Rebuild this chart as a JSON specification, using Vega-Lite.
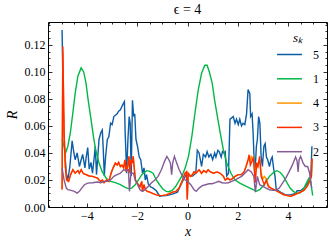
{
"$schema": "https://vega.github.io/schema/vega-lite/v6.json",
"width": 279, "height": 185,
"autosize": {"type": "none"},
"padding": {"left": 48, "top": 22, "right": 5, "bottom": 38},
"title": {"text": "ϵ = 4", "font": "Liberation Serif", "fontSize": 14, "fontWeight": "normal", "color": "black", "offset": 5},
"config": {
  "view": {"stroke": "black", "strokeWidth": 1},
  "axis": {"grid": false, "domain": false, "tickColor": "black", "tickWidth": 0.8, "labelColor": "black", "labelFont": "Liberation Serif", "labelFontSize": 12, "titleFont": "Liberation Serif", "titleFontStyle": "italic", "titleFontWeight": "normal", "titleFontSize": 14, "titleColor": "black", "labelFlush": false, "labelOverlap": false},
  "legend": {"labelFont": "Liberation Serif", "titleFont": "Liberation Serif", "labelColor": "black", "titleColor": "black"}
},
"data": {"values": [
{"s":"5","x":-4.99,"R":0.131},{"s":"5","x":-4.94,"R":0.072},{"s":"5","x":-4.89,"R":0.042},{"s":"5","x":-4.82,"R":0.025},{"s":"5","x":-4.76,"R":0.020},{"s":"5","x":-4.68,"R":0.030},{"s":"5","x":-4.59,"R":0.049},{"s":"5","x":-4.52,"R":0.040},{"s":"5","x":-4.47,"R":0.035},{"s":"5","x":-4.39,"R":0.040},{"s":"5","x":-4.30,"R":0.030},{"s":"5","x":-4.23,"R":0.035},{"s":"5","x":-4.17,"R":0.039},{"s":"5","x":-4.08,"R":0.029},{"s":"5","x":-4.03,"R":0.037},{"s":"5","x":-3.97,"R":0.044},{"s":"5","x":-3.91,"R":0.028},{"s":"5","x":-3.84,"R":0.033},{"s":"5","x":-3.78,"R":0.025},{"s":"5","x":-3.71,"R":0.037},{"s":"5","x":-3.67,"R":0.045},{"s":"5","x":-3.62,"R":0.024},{"s":"5","x":-3.57,"R":0.037},{"s":"5","x":-3.52,"R":0.050},{"s":"5","x":-3.45,"R":0.055},{"s":"5","x":-3.39,"R":0.057},{"s":"5","x":-3.35,"R":0.042},{"s":"5","x":-3.31,"R":0.023},{"s":"5","x":-3.26,"R":0.037},{"s":"5","x":-3.19,"R":0.050},{"s":"5","x":-3.13,"R":0.052},{"s":"5","x":-3.06,"R":0.062},{"s":"5","x":-3.00,"R":0.061},{"s":"5","x":-2.93,"R":0.067},{"s":"5","x":-2.87,"R":0.068},{"s":"5","x":-2.80,"R":0.069},{"s":"5","x":-2.74,"R":0.071},{"s":"5","x":-2.67,"R":0.072},{"s":"5","x":-2.62,"R":0.074},{"s":"5","x":-2.57,"R":0.076},{"s":"5","x":-2.51,"R":0.078},{"s":"5","x":-2.48,"R":0.055},{"s":"5","x":-2.42,"R":0.025},{"s":"5","x":-2.37,"R":0.050},{"s":"5","x":-2.32,"R":0.067},{"s":"5","x":-2.28,"R":0.062},{"s":"5","x":-2.24,"R":0.023},{"s":"5","x":-2.19,"R":0.079},{"s":"5","x":-2.14,"R":0.067},{"s":"5","x":-2.10,"R":0.069},{"s":"5","x":-2.05,"R":0.050},{"s":"5","x":-1.99,"R":0.045},{"s":"5","x":-1.92,"R":0.037},{"s":"5","x":-1.86,"R":0.035},{"s":"5","x":-1.79,"R":0.025},{"s":"5","x":-1.73,"R":0.029},{"s":"5","x":-1.68,"R":0.020},{"s":"5","x":-1.63,"R":0.024},{"s":"5","x":-1.56,"R":0.017},{"s":"5","x":-1.47,"R":0.015},{"s":"5","x":-1.37,"R":0.014},{"s":"5","x":-1.24,"R":0.012},{"s":"5","x":-1.11,"R":0.008},{"s":"5","x":-1.0,"R":0.0083},{"s":"5","x":-0.85,"R":0.0085},{"s":"5","x":-0.6,"R":0.0095},{"s":"5","x":-0.4,"R":0.011},{"s":"5","x":-0.2,"R":0.019},{"s":"5","x":-0.05,"R":0.024},{"s":"5","x":0.1,"R":0.023},{"s":"5","x":0.2,"R":0.023},{"s":"5","x":0.33,"R":0.025},{"s":"5","x":0.39,"R":0.042},{"s":"5","x":0.46,"R":0.040},{"s":"5","x":0.56,"R":0.030},{"s":"5","x":0.63,"R":0.039},{"s":"5","x":0.72,"R":0.037},{"s":"5","x":0.78,"R":0.041},{"s":"5","x":0.85,"R":0.037},{"s":"5","x":0.93,"R":0.039},{"s":"5","x":1.00,"R":0.035},{"s":"5","x":1.08,"R":0.040},{"s":"5","x":1.13,"R":0.037},{"s":"5","x":1.21,"R":0.042},{"s":"5","x":1.26,"R":0.041},{"s":"5","x":1.34,"R":0.037},{"s":"5","x":1.39,"R":0.041},{"s":"5","x":1.45,"R":0.040},{"s":"5","x":1.50,"R":0.041},{"s":"5","x":1.56,"R":0.023},{"s":"5","x":1.63,"R":0.025},{"s":"5","x":1.69,"R":0.065},{"s":"5","x":1.76,"R":0.066},{"s":"5","x":1.82,"R":0.067},{"s":"5","x":1.89,"R":0.062},{"s":"5","x":1.95,"R":0.065},{"s":"5","x":2.02,"R":0.061},{"s":"5","x":2.08,"R":0.065},{"s":"5","x":2.15,"R":0.060},{"s":"5","x":2.21,"R":0.062},{"s":"5","x":2.28,"R":0.061},{"s":"5","x":2.35,"R":0.069},{"s":"5","x":2.41,"R":0.087},{"s":"5","x":2.48,"R":0.084},{"s":"5","x":2.51,"R":0.067},{"s":"5","x":2.57,"R":0.069},{"s":"5","x":2.61,"R":0.055},{"s":"5","x":2.64,"R":0.040},{"s":"5","x":2.68,"R":0.023},{"s":"5","x":2.74,"R":0.045},{"s":"5","x":2.78,"R":0.050},{"s":"5","x":2.83,"R":0.067},{"s":"5","x":2.88,"R":0.062},{"s":"5","x":2.93,"R":0.037},{"s":"5","x":2.98,"R":0.030},{"s":"5","x":3.04,"R":0.045},{"s":"5","x":3.09,"R":0.047},{"s":"5","x":3.14,"R":0.037},{"s":"5","x":3.19,"R":0.035},{"s":"5","x":3.26,"R":0.030},{"s":"5","x":3.32,"R":0.035},{"s":"5","x":3.37,"R":0.037},{"s":"5","x":3.43,"R":0.028},{"s":"5","x":3.48,"R":0.023},{"s":"5","x":3.53,"R":0.013},{"s":"5","x":3.7,"R":0.011},{"s":"5","x":3.9,"R":0.009},{"s":"5","x":4.1,"R":0.009},{"s":"5","x":4.3,"R":0.010},{"s":"5","x":4.36,"R":0.012},{"s":"5","x":4.50,"R":0.012},{"s":"5","x":4.63,"R":0.014},{"s":"5","x":4.76,"R":0.017},{"s":"5","x":4.86,"R":0.020},{"s":"5","x":4.91,"R":0.025},{"s":"5","x":4.95,"R":0.045},

{"s":"1","x":-4.99,"R":0.050},{"s":"1","x":-4.91,"R":0.045},{"s":"1","x":-4.85,"R":0.040},{"s":"1","x":-4.76,"R":0.045},{"s":"1","x":-4.66,"R":0.055},{"s":"1","x":-4.56,"R":0.070},{"s":"1","x":-4.47,"R":0.084},{"s":"1","x":-4.36,"R":0.097},{"s":"1","x":-4.23,"R":0.103},{"s":"1","x":-4.13,"R":0.100},{"s":"1","x":-4.04,"R":0.092},{"s":"1","x":-3.95,"R":0.079},{"s":"1","x":-3.84,"R":0.065},{"s":"1","x":-3.74,"R":0.052},{"s":"1","x":-3.65,"R":0.042},{"s":"1","x":-3.52,"R":0.0325},{"s":"1","x":-3.39,"R":0.026},{"s":"1","x":-3.22,"R":0.021},{"s":"1","x":-3.06,"R":0.019},{"s":"1","x":-2.87,"R":0.018},{"s":"1","x":-2.67,"R":0.0165},{"s":"1","x":-2.48,"R":0.0145},{"s":"1","x":-2.35,"R":0.0136},{"s":"1","x":-2.22,"R":0.014},{"s":"1","x":-2.08,"R":0.0165},{"s":"1","x":-1.95,"R":0.020},{"s":"1","x":-1.82,"R":0.024},{"s":"1","x":-1.63,"R":0.0269},{"s":"1","x":-1.50,"R":0.0264},{"s":"1","x":-1.37,"R":0.025},{"s":"1","x":-1.24,"R":0.020},{"s":"1","x":-1.11,"R":0.0165},{"s":"1","x":-0.98,"R":0.0133},{"s":"1","x":-0.85,"R":0.0116},{"s":"1","x":-0.74,"R":0.0113},{"s":"1","x":-0.61,"R":0.0123},{"s":"1","x":-0.48,"R":0.015},{"s":"1","x":-0.35,"R":0.019},{"s":"1","x":-0.22,"R":0.023},{"s":"1","x":-0.09,"R":0.029},{"s":"1","x":0.04,"R":0.0375},{"s":"1","x":0.17,"R":0.052},{"s":"1","x":0.30,"R":0.070},{"s":"1","x":0.43,"R":0.087},{"s":"1","x":0.56,"R":0.099},{"s":"1","x":0.69,"R":0.105},{"s":"1","x":0.78,"R":0.105},{"s":"1","x":0.87,"R":0.100},{"s":"1","x":0.98,"R":0.092},{"s":"1","x":1.08,"R":0.079},{"s":"1","x":1.19,"R":0.067},{"s":"1","x":1.30,"R":0.055},{"s":"1","x":1.43,"R":0.042},{"s":"1","x":1.56,"R":0.0325},{"s":"1","x":1.73,"R":0.025},{"s":"1","x":1.89,"R":0.020},{"s":"1","x":2.08,"R":0.0177},{"s":"1","x":2.28,"R":0.0158},{"s":"1","x":2.48,"R":0.014},{"s":"1","x":2.61,"R":0.0128},{"s":"1","x":2.74,"R":0.0116},{"s":"1","x":2.87,"R":0.0128},{"s":"1","x":3.00,"R":0.0153},{"s":"1","x":3.13,"R":0.019},{"s":"1","x":3.26,"R":0.0227},{"s":"1","x":3.43,"R":0.0256},{"s":"1","x":3.56,"R":0.0269},{"s":"1","x":3.69,"R":0.0256},{"s":"1","x":3.82,"R":0.0227},{"s":"1","x":3.95,"R":0.0182},{"s":"1","x":4.08,"R":0.014},{"s":"1","x":4.21,"R":0.0116},{"s":"1","x":4.34,"R":0.0103},{"s":"1","x":4.47,"R":0.0103},{"s":"1","x":4.60,"R":0.0128},{"s":"1","x":4.73,"R":0.0177},{"s":"1","x":4.82,"R":0.021},{"s":"1","x":4.90,"R":0.019},{"s":"1","x":4.98,"R":0.0085},

{"s":"4","x":-4.99,"R":0.013},{"s":"4","x":-4.96,"R":0.115},{"s":"4","x":-4.91,"R":0.055},{"s":"4","x":-4.86,"R":0.030},{"s":"4","x":-4.81,"R":0.020},{"s":"4","x":-4.73,"R":0.019},{"s":"4","x":-4.65,"R":0.024},{"s":"4","x":-4.56,"R":0.0276},{"s":"4","x":-4.47,"R":0.025},{"s":"4","x":-4.36,"R":0.027},{"s":"4","x":-4.30,"R":0.025},{"s":"4","x":-4.23,"R":0.0276},{"s":"4","x":-4.14,"R":0.0246},{"s":"4","x":-4.04,"R":0.024},{"s":"4","x":-3.91,"R":0.023},{"s":"4","x":-3.78,"R":0.0227},{"s":"4","x":-3.67,"R":0.022},{"s":"4","x":-3.58,"R":0.0214},{"s":"4","x":-3.52,"R":0.020},{"s":"4","x":-3.45,"R":0.019},{"s":"4","x":-3.39,"R":0.020},{"s":"4","x":-3.32,"R":0.018},{"s":"4","x":-3.22,"R":0.020},{"s":"4","x":-3.13,"R":0.019},{"s":"4","x":-3.04,"R":0.025},{"s":"4","x":-2.96,"R":0.029},{"s":"4","x":-2.87,"R":0.0325},{"s":"4","x":-2.80,"R":0.031},{"s":"4","x":-2.74,"R":0.033},{"s":"4","x":-2.67,"R":0.030},{"s":"4","x":-2.61,"R":0.031},{"s":"4","x":-2.54,"R":0.029},{"s":"4","x":-2.49,"R":0.035},{"s":"4","x":-2.44,"R":0.026},{"s":"4","x":-2.38,"R":0.030},{"s":"4","x":-2.33,"R":0.0375},{"s":"4","x":-2.29,"R":0.025},{"s":"4","x":-2.25,"R":0.035},{"s":"4","x":-2.20,"R":0.0325},{"s":"4","x":-2.16,"R":0.0375},{"s":"4","x":-2.12,"R":0.029},{"s":"4","x":-2.07,"R":0.020},{"s":"4","x":-2.02,"R":0.018},{"s":"4","x":-1.95,"R":0.0165},{"s":"4","x":-1.89,"R":0.015},{"s":"4","x":-1.82,"R":0.019},{"s":"4","x":-1.79,"R":0.0116},{"s":"4","x":-1.73,"R":0.0165},{"s":"4","x":-1.68,"R":0.0128},{"s":"4","x":-1.60,"R":0.0116},{"s":"4","x":-1.50,"R":0.011},{"s":"4","x":-1.37,"R":0.0099},{"s":"4","x":-1.24,"R":0.009},{"s":"4","x":-1.11,"R":0.0084},{"s":"4","x":-0.98,"R":0.0086},{"s":"4","x":-0.85,"R":0.009},{"s":"4","x":-0.72,"R":0.0099},{"s":"4","x":-0.59,"R":0.011},{"s":"4","x":-0.46,"R":0.0116},{"s":"4","x":-0.33,"R":0.014},{"s":"4","x":-0.20,"R":0.020},{"s":"4","x":-0.10,"R":0.025},{"s":"4","x":-0.04,"R":0.026},{"s":"4","x":-0.01,"R":0.006},{"s":"4","x":0.03,"R":0.025},{"s":"4","x":0.13,"R":0.0227},{"s":"4","x":0.20,"R":0.024},{"s":"4","x":0.26,"R":0.026},{"s":"4","x":0.33,"R":0.025},{"s":"4","x":0.46,"R":0.0276},{"s":"4","x":0.56,"R":0.025},{"s":"4","x":0.65,"R":0.027},{"s":"4","x":0.74,"R":0.0256},{"s":"4","x":0.82,"R":0.0276},{"s":"4","x":0.91,"R":0.026},{"s":"4","x":1.04,"R":0.025},{"s":"4","x":1.17,"R":0.026},{"s":"4","x":1.30,"R":0.025},{"s":"4","x":1.43,"R":0.0227},{"s":"4","x":1.50,"R":0.020},{"s":"4","x":1.60,"R":0.0214},{"s":"4","x":1.69,"R":0.020},{"s":"4","x":1.76,"R":0.0207},{"s":"4","x":1.89,"R":0.0227},{"s":"4","x":2.02,"R":0.024},{"s":"4","x":2.15,"R":0.024},{"s":"4","x":2.25,"R":0.026},{"s":"4","x":2.33,"R":0.030},{"s":"4","x":2.41,"R":0.035},{"s":"4","x":2.45,"R":0.036},{"s":"4","x":2.50,"R":0.034},{"s":"4","x":2.54,"R":0.038},{"s":"4","x":2.57,"R":0.035},{"s":"4","x":2.62,"R":0.037},{"s":"4","x":2.67,"R":0.028},{"s":"4","x":2.70,"R":0.026},{"s":"4","x":2.73,"R":0.0275},{"s":"4","x":2.75,"R":0.033},{"s":"4","x":2.80,"R":0.030},{"s":"4","x":2.87,"R":0.035},{"s":"4","x":2.93,"R":0.025},{"s":"4","x":3.00,"R":0.021},{"s":"4","x":3.06,"R":0.0226},{"s":"4","x":3.13,"R":0.021},{"s":"4","x":3.22,"R":0.016},{"s":"4","x":3.32,"R":0.014},{"s":"4","x":3.45,"R":0.0128},{"s":"4","x":3.58,"R":0.0116},{"s":"4","x":3.71,"R":0.0103},{"s":"4","x":3.84,"R":0.009},{"s":"4","x":3.97,"R":0.0084},{"s":"4","x":4.10,"R":0.0079},{"s":"4","x":4.23,"R":0.0089},{"s":"4","x":4.36,"R":0.0099},{"s":"4","x":4.50,"R":0.011},{"s":"4","x":4.63,"R":0.0123},{"s":"4","x":4.76,"R":0.0153},{"s":"4","x":4.86,"R":0.019},{"s":"4","x":4.93,"R":0.0227},{"s":"4","x":4.96,"R":0.035},

{"s":"3","x":-4.99,"R":0.013},{"s":"3","x":-4.96,"R":0.119},{"s":"3","x":-4.91,"R":0.055},{"s":"3","x":-4.86,"R":0.030},{"s":"3","x":-4.81,"R":0.020},{"s":"3","x":-4.73,"R":0.019},{"s":"3","x":-4.65,"R":0.024},{"s":"3","x":-4.56,"R":0.0276},{"s":"3","x":-4.47,"R":0.025},{"s":"3","x":-4.36,"R":0.027},{"s":"3","x":-4.30,"R":0.025},{"s":"3","x":-4.23,"R":0.0276},{"s":"3","x":-4.14,"R":0.0246},{"s":"3","x":-4.04,"R":0.024},{"s":"3","x":-3.91,"R":0.023},{"s":"3","x":-3.78,"R":0.0227},{"s":"3","x":-3.67,"R":0.022},{"s":"3","x":-3.58,"R":0.0214},{"s":"3","x":-3.52,"R":0.020},{"s":"3","x":-3.45,"R":0.019},{"s":"3","x":-3.39,"R":0.020},{"s":"3","x":-3.32,"R":0.018},{"s":"3","x":-3.22,"R":0.020},{"s":"3","x":-3.13,"R":0.019},{"s":"3","x":-3.04,"R":0.025},{"s":"3","x":-2.96,"R":0.029},{"s":"3","x":-2.87,"R":0.0325},{"s":"3","x":-2.80,"R":0.031},{"s":"3","x":-2.74,"R":0.033},{"s":"3","x":-2.67,"R":0.030},{"s":"3","x":-2.61,"R":0.031},{"s":"3","x":-2.54,"R":0.029},{"s":"3","x":-2.49,"R":0.035},{"s":"3","x":-2.44,"R":0.026},{"s":"3","x":-2.38,"R":0.030},{"s":"3","x":-2.33,"R":0.0375},{"s":"3","x":-2.29,"R":0.025},{"s":"3","x":-2.25,"R":0.035},{"s":"3","x":-2.20,"R":0.0325},{"s":"3","x":-2.16,"R":0.0375},{"s":"3","x":-2.12,"R":0.029},{"s":"3","x":-2.07,"R":0.020},{"s":"3","x":-2.02,"R":0.018},{"s":"3","x":-1.95,"R":0.0165},{"s":"3","x":-1.89,"R":0.015},{"s":"3","x":-1.82,"R":0.019},{"s":"3","x":-1.79,"R":0.0116},{"s":"3","x":-1.73,"R":0.0165},{"s":"3","x":-1.68,"R":0.0128},{"s":"3","x":-1.60,"R":0.0116},{"s":"3","x":-1.50,"R":0.011},{"s":"3","x":-1.37,"R":0.0099},{"s":"3","x":-1.24,"R":0.009},{"s":"3","x":-1.11,"R":0.0084},{"s":"3","x":-0.98,"R":0.0086},{"s":"3","x":-0.85,"R":0.009},{"s":"3","x":-0.72,"R":0.0099},{"s":"3","x":-0.59,"R":0.011},{"s":"3","x":-0.46,"R":0.0116},{"s":"3","x":-0.33,"R":0.014},{"s":"3","x":-0.20,"R":0.020},{"s":"3","x":-0.10,"R":0.025},{"s":"3","x":-0.04,"R":0.026},{"s":"3","x":-0.01,"R":0.0054},{"s":"3","x":0.03,"R":0.025},{"s":"3","x":0.13,"R":0.0227},{"s":"3","x":0.20,"R":0.024},{"s":"3","x":0.26,"R":0.026},{"s":"3","x":0.33,"R":0.025},{"s":"3","x":0.46,"R":0.0276},{"s":"3","x":0.56,"R":0.025},{"s":"3","x":0.65,"R":0.027},{"s":"3","x":0.74,"R":0.0256},{"s":"3","x":0.82,"R":0.0276},{"s":"3","x":0.91,"R":0.026},{"s":"3","x":1.04,"R":0.025},{"s":"3","x":1.17,"R":0.026},{"s":"3","x":1.30,"R":0.025},{"s":"3","x":1.43,"R":0.0227},{"s":"3","x":1.50,"R":0.020},{"s":"3","x":1.60,"R":0.0214},{"s":"3","x":1.69,"R":0.020},{"s":"3","x":1.76,"R":0.0207},{"s":"3","x":1.89,"R":0.0227},{"s":"3","x":2.02,"R":0.024},{"s":"3","x":2.15,"R":0.024},{"s":"3","x":2.25,"R":0.026},{"s":"3","x":2.33,"R":0.030},{"s":"3","x":2.41,"R":0.035},{"s":"3","x":2.45,"R":0.0387},{"s":"3","x":2.50,"R":0.031},{"s":"3","x":2.57,"R":0.034},{"s":"3","x":2.62,"R":0.036},{"s":"3","x":2.67,"R":0.025},{"s":"3","x":2.70,"R":0.018},{"s":"3","x":2.75,"R":0.0325},{"s":"3","x":2.80,"R":0.030},{"s":"3","x":2.87,"R":0.0375},{"s":"3","x":2.93,"R":0.0227},{"s":"3","x":3.00,"R":0.019},{"s":"3","x":3.06,"R":0.0165},{"s":"3","x":3.13,"R":0.020},{"s":"3","x":3.22,"R":0.015},{"s":"3","x":3.32,"R":0.014},{"s":"3","x":3.45,"R":0.0128},{"s":"3","x":3.58,"R":0.0116},{"s":"3","x":3.71,"R":0.0103},{"s":"3","x":3.84,"R":0.009},{"s":"3","x":3.97,"R":0.0084},{"s":"3","x":4.10,"R":0.0079},{"s":"3","x":4.23,"R":0.0089},{"s":"3","x":4.36,"R":0.0099},{"s":"3","x":4.50,"R":0.011},{"s":"3","x":4.63,"R":0.0123},{"s":"3","x":4.76,"R":0.0153},{"s":"3","x":4.86,"R":0.019},{"s":"3","x":4.93,"R":0.0227},{"s":"3","x":4.96,"R":0.036},

{"s":"2","x":-4.99,"R":0.029},{"s":"2","x":-4.91,"R":0.020},{"s":"2","x":-4.82,"R":0.014},{"s":"2","x":-4.76,"R":0.0128},{"s":"2","x":-4.63,"R":0.0123},{"s":"2","x":-4.50,"R":0.0116},{"s":"2","x":-4.39,"R":0.0103},{"s":"2","x":-4.30,"R":0.0116},{"s":"2","x":-4.21,"R":0.014},{"s":"2","x":-4.10,"R":0.0165},{"s":"2","x":-3.97,"R":0.0177},{"s":"2","x":-3.78,"R":0.018},{"s":"2","x":-3.58,"R":0.0185},{"s":"2","x":-3.45,"R":0.018},{"s":"2","x":-3.32,"R":0.019},{"s":"2","x":-3.19,"R":0.019},{"s":"2","x":-3.06,"R":0.020},{"s":"2","x":-2.93,"R":0.0227},{"s":"2","x":-2.80,"R":0.024},{"s":"2","x":-2.67,"R":0.025},{"s":"2","x":-2.54,"R":0.0276},{"s":"2","x":-2.41,"R":0.027},{"s":"2","x":-2.35,"R":0.0276},{"s":"2","x":-2.31,"R":0.0116},{"s":"2","x":-2.25,"R":0.025},{"s":"2","x":-2.15,"R":0.025},{"s":"2","x":-2.08,"R":0.020},{"s":"2","x":-2.02,"R":0.018},{"s":"2","x":-1.89,"R":0.0128},{"s":"2","x":-1.79,"R":0.0116},{"s":"2","x":-1.69,"R":0.0128},{"s":"2","x":-1.56,"R":0.0153},{"s":"2","x":-1.43,"R":0.018},{"s":"2","x":-1.30,"R":0.020},{"s":"2","x":-1.17,"R":0.0227},{"s":"2","x":-1.04,"R":0.0276},{"s":"2","x":-0.91,"R":0.034},{"s":"2","x":-0.82,"R":0.0375},{"s":"2","x":-0.74,"R":0.035},{"s":"2","x":-0.68,"R":0.0325},{"s":"2","x":-0.63,"R":0.024},{"s":"2","x":-0.59,"R":0.0325},{"s":"2","x":-0.52,"R":0.0375},{"s":"2","x":-0.43,"R":0.0325},{"s":"2","x":-0.33,"R":0.0276},{"s":"2","x":-0.20,"R":0.0227},{"s":"2","x":-0.09,"R":0.020},{"s":"2","x":0.0,"R":0.019},{"s":"2","x":0.13,"R":0.0165},{"s":"2","x":0.26,"R":0.0128},{"s":"2","x":0.35,"R":0.0116},{"s":"2","x":0.46,"R":0.014},{"s":"2","x":0.59,"R":0.0158},{"s":"2","x":0.72,"R":0.0165},{"s":"2","x":0.85,"R":0.0172},{"s":"2","x":0.98,"R":0.0172},{"s":"2","x":1.11,"R":0.018},{"s":"2","x":1.24,"R":0.019},{"s":"2","x":1.37,"R":0.018},{"s":"2","x":1.50,"R":0.0177},{"s":"2","x":1.63,"R":0.018},{"s":"2","x":1.76,"R":0.019},{"s":"2","x":1.89,"R":0.020},{"s":"2","x":2.02,"R":0.0214},{"s":"2","x":2.15,"R":0.0227},{"s":"2","x":2.28,"R":0.025},{"s":"2","x":2.41,"R":0.0276},{"s":"2","x":2.54,"R":0.026},{"s":"2","x":2.64,"R":0.0227},{"s":"2","x":2.70,"R":0.011},{"s":"2","x":2.78,"R":0.0227},{"s":"2","x":2.87,"R":0.0165},{"s":"2","x":3.00,"R":0.0153},{"s":"2","x":3.13,"R":0.014},{"s":"2","x":3.26,"R":0.0128},{"s":"2","x":3.39,"R":0.0123},{"s":"2","x":3.52,"R":0.0123},{"s":"2","x":3.65,"R":0.014},{"s":"2","x":3.78,"R":0.0177},{"s":"2","x":3.91,"R":0.0214},{"s":"2","x":4.04,"R":0.026},{"s":"2","x":4.17,"R":0.031},{"s":"2","x":4.30,"R":0.037},{"s":"2","x":4.36,"R":0.034},{"s":"2","x":4.40,"R":0.026},{"s":"2","x":4.44,"R":0.035},{"s":"2","x":4.50,"R":0.0375},{"s":"2","x":4.60,"R":0.0325},{"s":"2","x":4.69,"R":0.030},{"s":"2","x":4.78,"R":0.030},{"s":"2","x":4.86,"R":0.025},{"s":"2","x":4.94,"R":0.014}
]},
"resolve": {"axis": {"x": "independent", "y": "independent"}},
"layer": [
  {"transform": [{"filter": "datum.s == '5'"}],
   "mark": {"type": "line", "strokeWidth": 1.4},
   "encoding": {
     "x": {"field": "x", "type": "quantitative", "scale": {"domain": [-5.55, 5.55], "nice": false, "zero": false},
           "axis": {"orient": "bottom", "values": [-4, -2, 0, 2, 4], "tickSize": -4, "labelPadding": 7, "title": "x", "titlePadding": 3}},
     "y": {"field": "R", "type": "quantitative", "scale": {"domain": [0, 0.137], "nice": false, "zero": false},
           "axis": {"orient": "left", "values": [0, 0.02, 0.04, 0.06, 0.08, 0.1, 0.12], "format": ".2f", "tickSize": -4, "labelPadding": 7, "title": "R", "titlePadding": 5}},
     "color": {"field": "s", "type": "nominal",
       "scale": {"domain": ["5", "1", "4", "3", "2"], "range": ["#0C5DA5", "#00B945", "#FF9500", "#FF2C00", "#845B97"]},
       "legend": {"orient": "none", "legendX": 228, "legendY": 10, "title": "sₖ", "titleFontStyle": "italic", "titleFontWeight": "normal", "titleFontSize": 13, "titleAnchor": "middle", "titlePadding": -4, "labelFontSize": 12, "symbolType": "stroke", "symbolSize": 625, "symbolStrokeWidth": 1.5, "labelOffset": 10, "rowPadding": 4.3}}
   }},
  {"transform": [{"filter": "datum.s == '1'"}],
   "mark": {"type": "line", "strokeWidth": 1.4},
   "encoding": {"x": {"field": "x", "type": "quantitative", "axis": null}, "y": {"field": "R", "type": "quantitative", "axis": null}, "color": {"field": "s", "type": "nominal"}}},
  {"transform": [{"filter": "datum.s == '4'"}],
   "mark": {"type": "line", "strokeWidth": 1.4},
   "encoding": {"x": {"field": "x", "type": "quantitative", "axis": null}, "y": {"field": "R", "type": "quantitative", "axis": null}, "color": {"field": "s", "type": "nominal"}}},
  {"transform": [{"filter": "datum.s == '3'"}],
   "mark": {"type": "line", "strokeWidth": 1.4},
   "encoding": {"x": {"field": "x", "type": "quantitative", "axis": null}, "y": {"field": "R", "type": "quantitative", "axis": null}, "color": {"field": "s", "type": "nominal"}}},
  {"transform": [{"filter": "datum.s == '2'"}],
   "mark": {"type": "line", "strokeWidth": 1.4},
   "encoding": {"x": {"field": "x", "type": "quantitative", "axis": null}, "y": {"field": "R", "type": "quantitative", "axis": null}, "color": {"field": "s", "type": "nominal"}}},
  {"transform": [{"filter": "datum.s == '2'"}],
   "mark": {"type": "point", "opacity": 0},
   "encoding": {
     "x": {"field": "x", "type": "quantitative", "axis": {"orient": "top", "values": [-4, -2, 0, 2, 4], "tickSize": -4, "labels": false, "title": null}},
     "y": {"field": "R", "type": "quantitative", "axis": {"orient": "right", "values": [0, 0.02, 0.04, 0.06, 0.08, 0.1, 0.12], "tickSize": -4, "labels": false, "title": null}}}},
  {"transform": [{"filter": "datum.s == '2'"}],
   "mark": {"type": "point", "opacity": 0},
   "encoding": {
     "x": {"field": "x", "type": "quantitative", "axis": {"orient": "bottom", "values": [-5.5, -5, -4.5, -3.5, -3, -2.5, -1.5, -1, -0.5, 0.5, 1, 1.5, 2.5, 3, 3.5, 4.5, 5, 5.5], "tickSize": -2, "labels": false, "title": null}},
     "y": {"field": "R", "type": "quantitative", "axis": {"orient": "left", "values": [0.005, 0.01, 0.015, 0.025, 0.03, 0.035, 0.045, 0.05, 0.055, 0.065, 0.07, 0.075, 0.085, 0.09, 0.095, 0.105, 0.11, 0.115, 0.125, 0.13, 0.135], "tickSize": -2, "labels": false, "title": null}}}},
  {"transform": [{"filter": "datum.s == '2'"}],
   "mark": {"type": "point", "opacity": 0},
   "encoding": {
     "x": {"field": "x", "type": "quantitative", "axis": {"orient": "top", "values": [-5.5, -5, -4.5, -3.5, -3, -2.5, -1.5, -1, -0.5, 0.5, 1, 1.5, 2.5, 3, 3.5, 4.5, 5, 5.5], "tickSize": -2, "labels": false, "title": null}},
     "y": {"field": "R", "type": "quantitative", "axis": {"orient": "right", "values": [0.005, 0.01, 0.015, 0.025, 0.03, 0.035, 0.045, 0.05, 0.055, 0.065, 0.07, 0.075, 0.085, 0.09, 0.095, 0.105, 0.11, 0.115, 0.125, 0.13, 0.135], "tickSize": -2, "labels": false, "title": null}}}}
]
}
